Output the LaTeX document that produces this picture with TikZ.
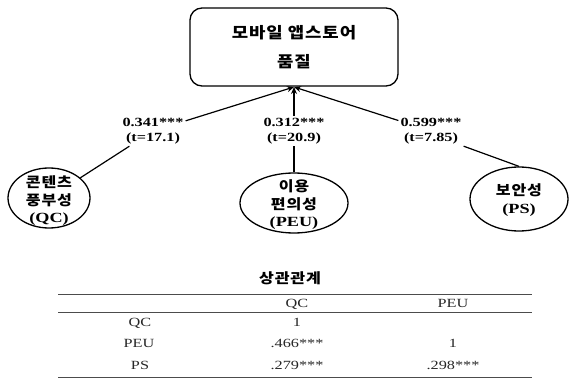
\documentclass[tikz,border=0pt]{standalone}
\usepackage{fontspec}
\setmainfont{Liberation Serif}[FakeStretch=1.3]
\newfontfamily\kr{Noto Sans CJK KR}[FakeStretch=1.15]
\newfontfamily\krw{Noto Sans CJK KR}[FakeStretch=1.15,LetterSpace=6]
\usetikzlibrary{shapes.geometric,arrows.meta}
\begin{document}
\begin{tikzpicture}[x=1pt,y=-1pt,
 box/.style={draw, line width=1.3pt, rounded corners=12pt, minimum width=208pt, minimum height=78pt, align=center, inner sep=0pt},
 ell/.style={draw, ellipse, line width=1.3pt, inner sep=0pt},
 etext/.style={align=center, inner sep=0pt, font=\fontsize{14}{17.5}\selectfont},
 lab/.style={align=center, font=\rmfamily\bfseries\fontsize{12.5}{15}\selectfont, inner sep=2pt, minimum width=60pt, minimum height=30pt},
 conn/.style={line width=1.2pt},
 arr/.style={conn, -{Stealth[length=7pt,width=6pt]}},
 cell/.style={font=\rmfamily\fontsize{12.5}{14}\selectfont, inner sep=0pt, anchor=base, text=black!85},
 tabrule/.style={line width=1pt, draw=black!70}]
\useasboundingbox (0,0) rectangle (572,379);
% top box
\node[box, font=\krw\bfseries\fontsize{15.5}{29}\selectfont] (m) at (294,47) {모바일 앱스토어\\품질};
\coordinate (tip) at (294,87);
% ellipses
\node[ell, minimum width=82pt, minimum height=60pt] (qc) at (49,198) {};
\node[etext] (qct) at (49,201) {{\krw\bfseries 콘텐츠}\\{\krw\bfseries 풍부성}\\{\rmfamily\bfseries (QC)}};
\node[ell, minimum width=108pt, minimum height=60pt] (peu) at (294,203) {};
\node[etext] (peut) at (294,205) {{\krw\bfseries 이용}\\{\krw\bfseries 편의성}\\{\rmfamily\bfseries (PEU)}};
\node[ell, minimum width=98pt, minimum height=64pt] (ps) at (519,199) {};
\node[etext] (pst) at (519,200) {{\krw\bfseries 보안성}\\{\rmfamily\bfseries (PS)}};
% labels
\node[lab] (lqc) at (153,131) {0.341***\\(t=17.1)};
\node[lab] (lpeu) at (294,131) {0.312***\\(t=20.9)};
\node[lab] (lps) at (431,131) {0.599***\\(t=7.85)};
% connectors
\draw[conn] (qc) -- (lqc);
\draw[arr] (lqc) -- (tip);
\draw[conn] (peu) -- (lpeu);
\draw[arr] (lpeu) -- (tip);
\draw[conn] (lps.south east) -- (ps.north);
\draw[arr] (lps) -- (tip);
% table
\node[font=\krw\bfseries\fontsize{14}{16}\selectfont, inner sep=0pt] (title) at (290,278) {상관관계};
\coordinate (tl) at (58,294); \coordinate (tr) at (532,294);
\coordinate (ml) at (58,312); \coordinate (mr) at (532,312);
\coordinate (bl) at (58,377); \coordinate (br) at (532,377);
\draw[tabrule] (tl) -- (tr);
\draw[tabrule] (ml) -- (mr);
\draw[tabrule] (bl) -- (br);
\node[cell] (h1) at (297,307) {QC};
\node[cell] (h2) at (453,307) {PEU};
\node[cell] (r1) at (140,326) {QC};
\node[cell] (r2) at (139,347) {PEU};
\node[cell] (r3) at (140,369) {PS};
\node[cell] (c11) at (297,326) {1};
\node[cell] (c21) at (297,347) {.466***};
\node[cell] (c22) at (453,347) {1};
\node[cell] (c31) at (297,369) {.279***};
\node[cell] (c32) at (453,369) {.298***};
\end{tikzpicture}
\end{document}
